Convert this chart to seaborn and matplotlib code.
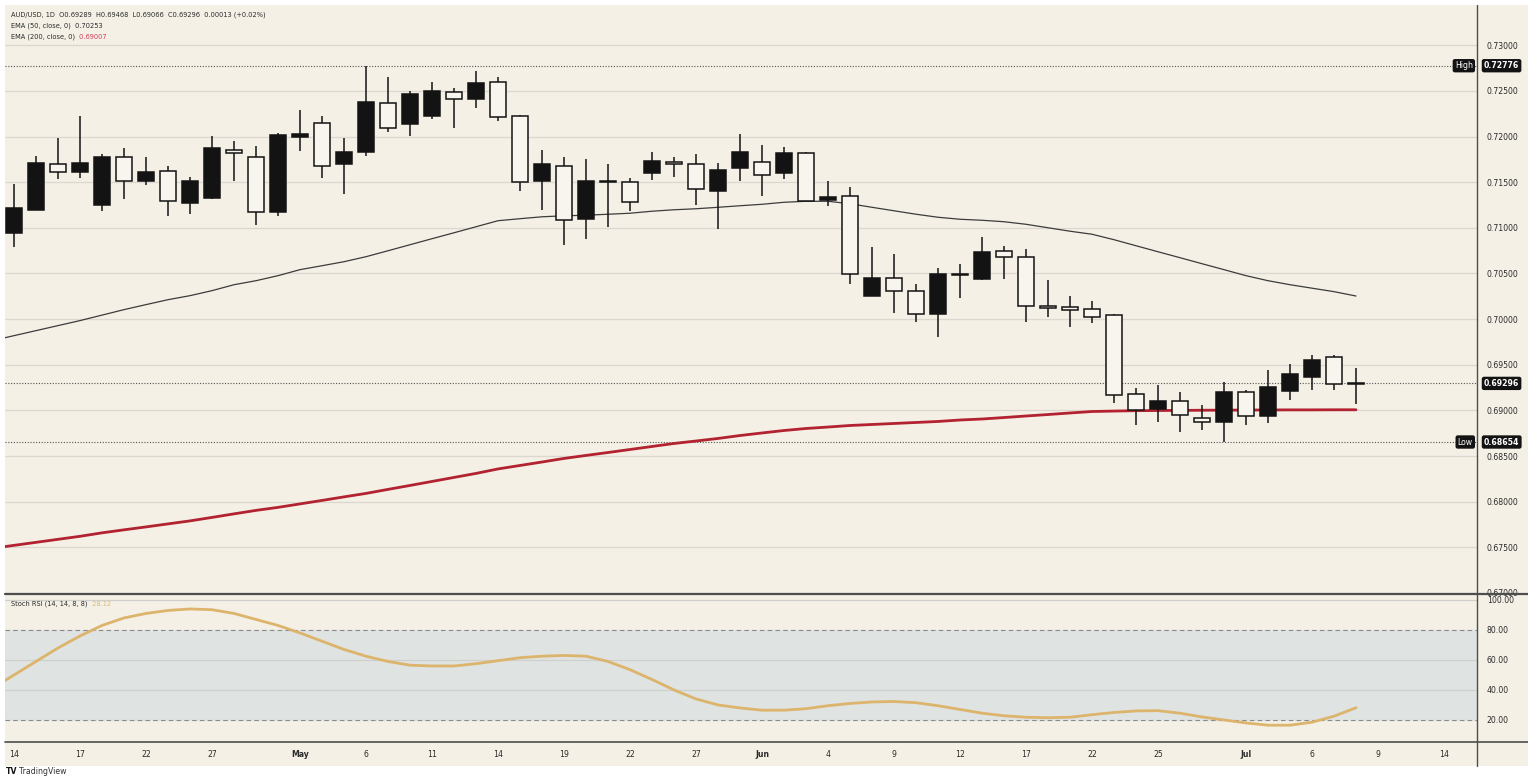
import numpy as np
import pandas as pd
import matplotlib
matplotlib.use("Agg")
import matplotlib.pyplot as plt
import seaborn as sns
from matplotlib import font_manager
from matplotlib.lines import Line2D
from matplotlib.patches import Rectangle

# AUD/USD daily candles (black = close above open)
opens = [0.70943, 0.71198, 0.71701, 0.71617, 0.71245, 0.71775, 0.71515, 0.71621, 0.71271, 0.71326,
         0.71854, 0.71775, 0.71173, 0.71997, 0.72146, 0.71701, 0.71829, 0.72365, 0.72139, 0.72226,
         0.72492, 0.72409, 0.72595, 0.72226, 0.71518, 0.71672, 0.71096, 0.71505, 0.71501, 0.71599,
         0.71723, 0.71701, 0.71409, 0.71657, 0.71720, 0.71599, 0.71818, 0.71307, 0.71351, 0.70257,
         0.70451, 0.70304, 0.70057, 0.70480, 0.70443, 0.70742, 0.70680, 0.70148, 0.70129, 0.70112,
         0.70042, 0.69182, 0.69018, 0.69108, 0.68919, 0.68875, 0.69204, 0.68937, 0.69210, 0.69363,
         0.69586, 0.69289]
highs = [0.71479, 0.71789, 0.71982, 0.72230, 0.71807, 0.71873, 0.71775, 0.71672, 0.71562, 0.72008,
         0.71953, 0.71901, 0.72044, 0.72292, 0.72226, 0.71982, 0.72776, 0.72650, 0.72503, 0.72602,
         0.72529, 0.72722, 0.72656, 0.72241, 0.71854, 0.71775, 0.71753, 0.71701, 0.71545, 0.71829,
         0.71775, 0.71811, 0.71709, 0.72026, 0.71909, 0.71890, 0.71829, 0.71508, 0.71446, 0.70790,
         0.70713, 0.70385, 0.70560, 0.70607, 0.70899, 0.70804, 0.70768, 0.70424, 0.70249, 0.70202,
         0.70060, 0.69247, 0.69283, 0.69199, 0.69054, 0.69309, 0.69229, 0.69440, 0.69510, 0.69604,
         0.69612, 0.69468]
lows = [0.70786, 0.71195, 0.71534, 0.71551, 0.71179, 0.71315, 0.71471, 0.71125, 0.71154, 0.71320,
        0.71515, 0.71026, 0.71125, 0.71843, 0.71545, 0.71373, 0.71789, 0.72054, 0.72011, 0.72190,
        0.72098, 0.72317, 0.72172, 0.71409, 0.71190, 0.70807, 0.70877, 0.71004, 0.71179, 0.71526,
        0.71562, 0.71253, 0.70990, 0.71508, 0.71354, 0.71537, 0.71290, 0.71234, 0.70385, 0.70250,
        0.70068, 0.69965, 0.69801, 0.70232, 0.70432, 0.70443, 0.69965, 0.70024, 0.69910, 0.69958,
        0.69083, 0.68838, 0.68875, 0.68762, 0.68783, 0.68654, 0.68838, 0.68857, 0.69119, 0.69229,
        0.69229, 0.69066]
closes = [0.71217, 0.71709, 0.71617, 0.71709, 0.71781, 0.71518, 0.71610, 0.71289, 0.71515, 0.71873,
          0.71818, 0.71173, 0.72018, 0.72026, 0.71679, 0.71836, 0.72376, 0.72092, 0.72464, 0.72503,
          0.72409, 0.72591, 0.72212, 0.71501, 0.71698, 0.71081, 0.71515, 0.71512, 0.71282, 0.71737,
          0.71694, 0.71424, 0.71636, 0.71832, 0.71581, 0.71818, 0.71296, 0.71343, 0.70494, 0.70451,
          0.70304, 0.70057, 0.70498, 0.70490, 0.70735, 0.70680, 0.70148, 0.70123, 0.70104, 0.70024,
          0.69166, 0.69002, 0.69108, 0.68948, 0.68875, 0.69199, 0.68937, 0.69258, 0.69404, 0.69557,
          0.69291, 0.69296]

# indicator values start one bar before the first visible candle
ema50 = [0.69764, 0.69819, 0.69874, 0.69929, 0.69984, 0.70044, 0.70104, 0.70159, 0.70213, 0.70257,
         0.70312, 0.70377, 0.70421, 0.70476, 0.70542, 0.70585, 0.70629, 0.70684, 0.70749, 0.70815,
         0.70881, 0.70946, 0.71012, 0.71078, 0.71100, 0.71121, 0.71132, 0.71138, 0.71149, 0.71160,
         0.71182, 0.71198, 0.71209, 0.71225, 0.71242, 0.71258, 0.71280, 0.71291, 0.71291, 0.71264,
         0.71225, 0.71187, 0.71149, 0.71116, 0.71094, 0.71083, 0.71067, 0.71039, 0.71001, 0.70963,
         0.70930, 0.70870, 0.70804, 0.70738, 0.70673, 0.70607, 0.70542, 0.70476, 0.70421, 0.70377,
         0.70339, 0.70301, 0.70253]
ema200 = [0.67489, 0.67522, 0.67555, 0.67588, 0.67621, 0.67659, 0.67692, 0.67724, 0.67757, 0.67790,
          0.67828, 0.67867, 0.67905, 0.67938, 0.67976, 0.68014, 0.68053, 0.68091, 0.68135, 0.68178,
          0.68222, 0.68266, 0.68310, 0.68359, 0.68397, 0.68435, 0.68474, 0.68507, 0.68539, 0.68572,
          0.68605, 0.68638, 0.68665, 0.68693, 0.68725, 0.68753, 0.68780, 0.68802, 0.68818, 0.68835,
          0.68846, 0.68857, 0.68868, 0.68879, 0.68895, 0.68906, 0.68922, 0.68939, 0.68955, 0.68972,
          0.68988, 0.68993, 0.68997, 0.68999, 0.69000, 0.69002, 0.69003, 0.69004, 0.69005, 0.69006,
          0.69006, 0.69007, 0.69007]
stoch_rsi = [41, 50, 59, 68, 76, 83, 88, 91, 93, 94,
             93.5, 91, 87, 83, 78, 72.5, 67, 62.5, 59, 56.5,
             56, 56, 57.5, 59.5, 61.5, 62.5, 63, 62.5, 59, 53.5,
             47, 40, 34, 30, 28, 26.5, 26.5, 27.5, 29.5, 31,
             32, 32.3, 31.5, 29.5, 27, 24.5, 22.8, 21.8, 21.5, 21.8,
             23.5, 25, 26, 26.2, 24.5, 22, 20, 18, 16.5, 16.5,
             18.5, 22.5, 28.12]

tick_pos = [0, 3, 6, 9, 13, 16, 19, 22, 25, 28, 31, 34, 37, 40, 43, 46, 49, 52, 56, 59, 62, 65]
tick_lab = ['14', '17', '22', '27', 'May', '6', '11', '14', '19', '22', '27', 'Jun',
            '4', '9', '12', '17', '22', '25', 'Jul', '6', '9', '14']
price_ticks = [0.670, 0.675, 0.680, 0.685, 0.690, 0.695, 0.700, 0.705, 0.710, 0.715, 0.720, 0.725, 0.730]
stoch_ticks = [20, 40, 60, 80, 100]

high_val, low_val, last_val = 0.72776, 0.68654, 0.69296

df = pd.DataFrame({'o': opens, 'h': highs, 'l': lows, 'c': closes})
df['x'] = np.arange(len(df))
ind = pd.DataFrame({'x': np.arange(-1, len(df)), 'ema50': ema50, 'ema200': ema200, 'srsi': stoch_rsi})

sns.set_style('white')
names = {f.name for f in font_manager.fontManager.ttflist}
fam = 'Liberation Sans Narrow' if 'Liberation Sans Narrow' in names else 'DejaVu Sans'
fs = 7.0 if fam == 'Liberation Sans Narrow' else 5.6
plt.rcParams['font.family'] = [fam, 'DejaVu Sans']

W, H = 1528, 784
bg = '#f4f0e6'
txt = '#2b2b2b'
dark = '#131313'

fig = plt.figure(figsize=(W / 100, H / 100), dpi=100, facecolor='white')
fig.patches.append(Rectangle((5 / W, 1 - 766 / H), 1523 / W, 761 / H, transform=fig.transFigure,
                             facecolor=bg, edgecolor='none', zorder=-5))

ax = fig.add_axes([5 / W, 1 - 593 / H, 1472 / W, 588 / H])
ax2 = fig.add_axes([5 / W, 1 - 742 / H, 1472 / W, 147 / H], sharex=ax)
for a in (ax, ax2):
    a.set_facecolor(bg)
    for s in a.spines.values():
        s.set_visible(False)

# price pane
for p in price_ticks:
    ax.axhline(p, color='#dcd8cf', lw=0.9, zorder=1)
for lvl in (high_val, low_val, last_val):
    ax.axhline(lvl, color='#555555', lw=0.8, ls=(0, (1, 1.5)), zorder=1)

up = df['c'] >= df['o']
ax.vlines(df['x'], df['l'], df['h'], color=dark, lw=1.1, zorder=3)
ax.bar(df['x'], (df['c'] - df['o']).abs().clip(lower=0.00004), bottom=df[['o', 'c']].min(axis=1),
       width=0.77, color=np.where(up, dark, '#f8f5ee'), edgecolor=dark, linewidth=1.1, zorder=4)

sns.lineplot(data=ind, x='x', y='ema50', ax=ax, color='#3c3c3c', lw=0.9, zorder=2)
sns.lineplot(data=ind, x='x', y='ema200', ax=ax, color='#b22230', lw=2.0, zorder=2)

ax.set_xlim(-0.41, 66.5)
ax.set_ylim(0.67008, 0.73441)
ax.set_yticks(price_ticks)
ax.set_yticklabels([f'{p:.5f}' for p in price_ticks])
ax.yaxis.tick_right()
ax.tick_params(axis='y', length=0, pad=7, labelsize=fs, labelcolor=txt)
ax.tick_params(axis='x', bottom=False, labelbottom=False)
ax.set_xlabel('')
ax.set_ylabel('')

box = dict(boxstyle='round,pad=0.28', fc=dark, ec='none')
for lvl, tag in ((high_val, 'High'), (low_val, 'Low')):
    ax.annotate(tag, xy=(1, lvl), xycoords=('axes fraction', 'data'), xytext=(-3, 0),
                textcoords='offset points', ha='right', va='center', color='white', fontsize=fs, bbox=box)
for lvl in (high_val, low_val, last_val):
    ax.annotate(f'{lvl:.5f}', xy=(1, lvl), xycoords=('axes fraction', 'data'), xytext=(5, 0),
                textcoords='offset points', ha='left', va='center', color='white', fontsize=fs,
                weight='bold', bbox=box, annotation_clip=False)

# stoch RSI pane
ax2.axhspan(20, 80, color='#dfe3e2', zorder=0)
for v in (100, 60, 40):
    ax2.axhline(v, color='#cfd0cc', lw=0.9, zorder=1)
for v in (80, 20):
    ax2.axhline(v, color='#8a8a8a', lw=0.8, ls=(0, (4, 3)), zorder=1)
sns.lineplot(data=ind, x='x', y='srsi', ax=ax2, color='#dcb46c', lw=2.0, zorder=3)
ax2.set_ylim(5.3, 103.3)
ax2.set_yticks(stoch_ticks)
ax2.set_yticklabels([f'{v:.2f}' for v in stoch_ticks])
ax2.yaxis.tick_right()
ax2.tick_params(axis='y', length=0, pad=7, labelsize=fs, labelcolor=txt)
ax2.set_xticks(tick_pos)
ax2.set_xticklabels(tick_lab)
ax2.tick_params(axis='x', length=0, pad=6, labelsize=fs, labelcolor=txt)
for lab in ax2.get_xticklabels():
    if lab.get_text() in ('May', 'Jun', 'Jul'):
        lab.set_fontweight('bold')
ax2.set_xlabel('')
ax2.set_ylabel('')

# pane separators and axis lines
fig.lines.append(Line2D([5 / W, 1], [1 - 594 / H] * 2, transform=fig.transFigure, color='#4d4d4d', lw=1.6))
fig.lines.append(Line2D([5 / W, 1], [1 - 742 / H] * 2, transform=fig.transFigure, color='#4d4d4d', lw=1.2))
fig.lines.append(Line2D([1477 / W] * 2, [1 - 5 / H, 1 - 766 / H], transform=fig.transFigure, color='#4d4d4d', lw=1.0))

# legends
lfs = fs - 0.8
fig.text(11 / W, 1 - 15 / H, 'AUD/USD, 1D  O0.69289  H0.69468  L0.69066  C0.69296  0.00013 (+0.02%)',
         fontsize=lfs, color=txt, va='center')
fig.text(11 / W, 1 - 26 / H, 'EMA (50, close, 0)  0.70253', fontsize=lfs, color=txt, va='center')
t3 = fig.text(11 / W, 1 - 37 / H, 'EMA (200, close, 0) ', fontsize=lfs, color=txt, va='center')
fig.text(0, 0, '', fontsize=lfs)
ax.annotate(' 0.69007', xy=(1, 0.5), xycoords=t3, ha='left', va='center', fontsize=lfs, color='#d0405a',
            annotation_clip=False)
t4 = fig.text(11 / W, 1 - 604 / H, 'Stoch RSI (14, 14, 8, 8) ', fontsize=lfs, color=txt, va='center')
ax2.annotate(' 28.12', xy=(1, 0.5), xycoords=t4, ha='left', va='center', fontsize=lfs, color='#e2b86e',
             annotation_clip=False)

fig.text(6 / W, 1 - 772 / H, 'TV', fontsize=fs, weight='heavy', color='#131313', va='center')
fig.text(19 / W, 1 - 772 / H, 'TradingView', fontsize=fs, color='#333333', va='center')

fig.savefig('out.png', dpi=100, facecolor='white')
